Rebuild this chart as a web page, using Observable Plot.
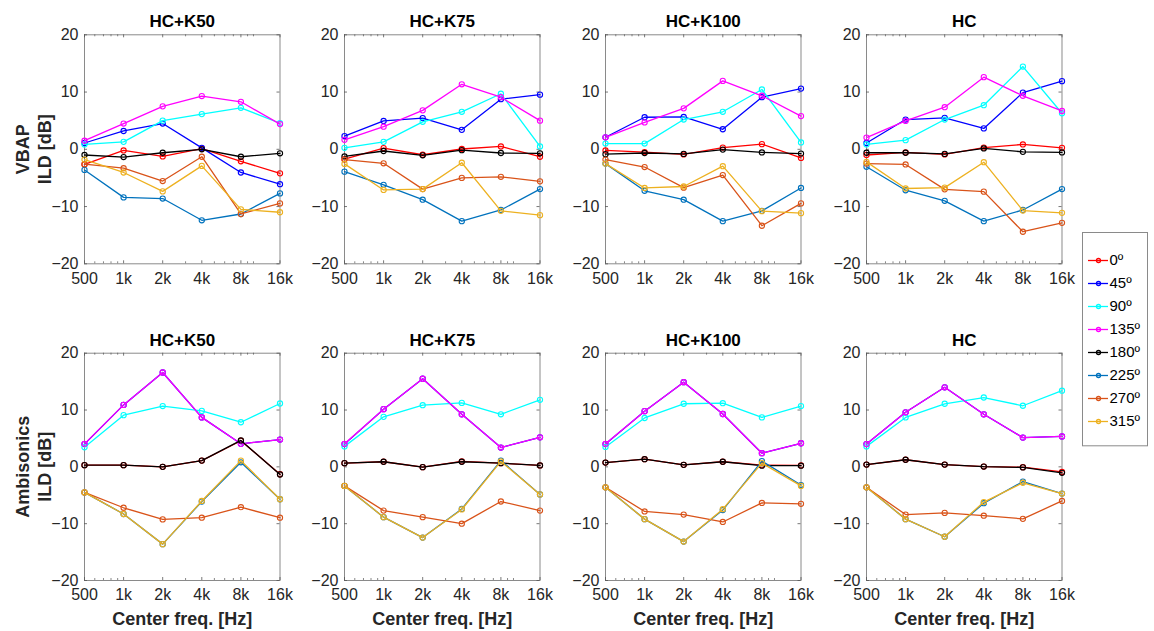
<!DOCTYPE html>
<html><head><meta charset="utf-8">
<script src="https://cdn.jsdelivr.net/npm/d3@7"></script>
<script src="https://cdn.jsdelivr.net/npm/@observablehq/plot@0.6"></script>
<style>
body{margin:0;background:#fff;}
#chart{position:relative;width:1154px;height:631px;overflow:hidden;background:#fff;}
</style>
</head><body><div id="chart"></div>
<script>
const freqs = [500, 1000, 2000, 4000, 8000, 16000];
const freqLabels = ["500", "1k", "2k", "4k", "8k", "16k"];
const minorFreqs = [600, 700, 800, 900, 3000, 5000, 6000, 7000, 9000, 10000];
const yTicks = [-20, -10, 0, 10, 20];
const angles = ["0º", "45º", "90º", "135º", "180º", "225º", "270º", "315º"];
const colors = ["#FF0000", "#0000FF", "#00FFFF", "#FF00FF", "#000000", "#0072BD", "#D95319", "#EDB120"];
const columnTitles = ["HC+K50", "HC+K75", "HC+K100", "HC"];
const rowLabels = ["VBAP\nILD [dB]", "Ambisonics\nILD [dB]"];
const xLabel = "Center freq. [Hz]";

// ILD [dB] per angle (rows: 0º..315º), per center frequency (500..16k)
const vbapK50 = [
  [-2.65, -0.2, -1.25, 0.1, -2.1, -4.2],
  [1.1, 3.2, 4.5, 0.25, -4.05, -6.1],
  [0.85, 1.3, 5.0, 6.15, 7.25, 4.55],
  [1.5, 4.5, 7.5, 9.3, 8.3, 4.4],
  [-1.0, -1.35, -0.6, 0.0, -1.3, -0.7],
  [-3.6, -8.4, -8.6, -12.4, -11.3, -7.7],
  [-2.6, -3.3, -5.55, -1.3, -11.3, -9.45],
  [-1.8, -4.05, -7.35, -2.9, -10.5, -11.0]
];
const vbapK75 = [
  [-1.7, 0.2, -0.95, 0.05, 0.5, -1.3],
  [2.3, 4.95, 5.45, 3.4, 8.75, 9.55],
  [0.25, 1.3, 4.8, 6.55, 9.7, 0.5],
  [1.65, 3.95, 6.8, 11.35, 9.1, 5.0],
  [-1.25, -0.3, -1.05, -0.15, -0.65, -0.7],
  [-3.9, -6.2, -8.8, -12.55, -10.6, -6.95],
  [-1.8, -2.45, -6.95, -5.0, -4.8, -5.6],
  [-2.55, -7.1, -6.95, -2.35, -10.75, -11.5]
];
const vbapK100 = [
  [-0.2, -0.5, -0.9, 0.3, 0.9, -1.5],
  [2.1, 5.6, 5.65, 3.5, 9.1, 10.6],
  [1.0, 1.0, 5.2, 6.55, 10.45, 1.2],
  [2.1, 4.7, 7.15, 11.95, 9.35, 5.8],
  [-0.85, -0.65, -0.8, -0.05, -0.55, -0.75],
  [-2.5, -7.25, -8.8, -12.55, -10.75, -6.75],
  [-1.8, -3.1, -6.7, -4.5, -13.35, -9.45],
  [-2.5, -6.75, -6.5, -2.95, -10.8, -11.15]
];
const vbapHC = [
  [-1.0, -0.55, -0.9, 0.3, 0.85, 0.25],
  [1.1, 5.2, 5.5, 3.65, 9.9, 11.9],
  [0.85, 1.6, 5.2, 7.7, 14.45, 6.3],
  [2.05, 4.95, 7.35, 12.6, 9.35, 6.7],
  [-0.6, -0.6, -0.8, 0.15, -0.45, -0.55],
  [-3.05, -7.15, -9.0, -12.55, -10.6, -6.95],
  [-2.5, -2.65, -7.0, -7.4, -14.4, -12.85],
  [-2.2, -6.85, -6.7, -2.25, -10.7, -11.1]
];
const ambK50 = [
  [0.3, 0.3, 0.0, 1.1, 4.6, -1.3],
  [4.0, 10.9, 16.6, 8.7, 4.05, 4.8],
  [3.45, 9.1, 10.7, 9.85, 7.85, 11.15],
  [4.05, 10.9, 16.6, 8.7, 4.05, 4.8],
  [0.3, 0.3, 0.0, 1.1, 4.65, -1.35],
  [-4.5, -8.3, -13.6, -6.1, 0.8, -5.7],
  [-4.5, -7.2, -9.25, -8.95, -7.1, -8.95],
  [-4.5, -8.3, -13.6, -6.0, 1.1, -5.7]
];
const ambK75 = [
  [0.65, 0.9, -0.05, 0.95, 0.65, 0.25],
  [4.0, 10.15, 15.5, 9.25, 3.4, 5.2],
  [3.6, 8.8, 10.85, 11.25, 9.25, 11.8],
  [4.05, 10.15, 15.5, 9.25, 3.4, 5.2],
  [0.65, 0.9, -0.05, 0.9, 0.65, 0.25],
  [-3.35, -8.85, -12.45, -7.4, 1.1, -4.85],
  [-3.35, -7.7, -8.85, -10.0, -6.1, -7.7],
  [-3.35, -8.85, -12.45, -7.5, 0.95, -4.85]
];
const ambK100 = [
  [0.75, 1.35, 0.35, 0.9, 0.3, 0.25],
  [4.0, 9.8, 14.9, 9.3, 2.4, 4.15],
  [3.5, 8.6, 11.1, 11.2, 8.7, 10.7],
  [4.05, 9.8, 14.9, 9.3, 2.4, 4.15],
  [0.75, 1.35, 0.35, 0.9, 0.2, 0.2],
  [-3.6, -9.2, -13.15, -7.6, 1.0, -3.2],
  [-3.6, -7.85, -8.4, -9.7, -6.35, -6.5],
  [-3.6, -9.2, -13.15, -7.45, 0.65, -3.35]
];
const ambHC = [
  [0.4, 1.25, 0.4, 0.05, -0.05, -0.9],
  [4.0, 9.6, 14.0, 9.25, 5.15, 5.35],
  [3.6, 8.7, 11.1, 12.2, 10.75, 13.4],
  [4.0, 9.6, 14.0, 9.25, 5.15, 5.35],
  [0.4, 1.25, 0.4, 0.05, -0.1, -1.05],
  [-3.6, -9.2, -12.3, -6.4, -2.6, -4.7],
  [-3.6, -8.4, -8.1, -8.6, -9.15, -6.0],
  [-3.6, -9.2, -12.3, -6.2, -2.8, -4.7]
];

const panels = [
  [vbapK50, vbapK75, vbapK100, vbapHC],
  [ambK50, ambK75, ambK100, ambHC]
];

const FONT = '"Liberation Sans", Arial, Helvetica, sans-serif';
const frameColor = "#8a8a8a";
const tickColor = "#555";
const freqIndex = d => freqs.reduce((best, f, i) => Math.abs(Math.log(f / d)) < Math.abs(Math.log(freqs[best] / d)) ? i : best, 0);
const frameLefts = [84, 344.3, 605, 866];
const chart = document.getElementById("chart");

function panel(values, r, c) {
  const innerW = 195.5;
  const innerH = r === 0 ? 229 : 227.3;
  const mL = c === 0 ? 84 : 50, mR = 15;
  const mT = r === 0 ? 34.3 : 42.7, mB = r === 0 ? 30 : 51;
  const left = c === 0 ? 0 : frameLefts[c] - 50;
  const top = r === 0 ? 0 : 310;
  const rows = [];
  angles.forEach((a, k) => values[k].forEach((v, j) => rows.push({k, freq: freqs[j], ild: v})));
  const tickLabels = freqs.map((f, i) => ({freq: f, label: freqLabels[i]}));
  const marks = [
    Plot.frame({stroke: frameColor, strokeWidth: 1}),
    Plot.tickX(freqs, {x: d => d, insetTop: innerH - 3, stroke: tickColor, strokeWidth: 0.8}),
    Plot.tickX(freqs, {x: d => d, insetBottom: innerH - 3, stroke: tickColor, strokeWidth: 0.8}),
    Plot.tickX(minorFreqs, {x: d => d, insetTop: innerH - 2, stroke: tickColor, strokeWidth: 0.7}),
    Plot.tickX(minorFreqs, {x: d => d, insetBottom: innerH - 2, stroke: tickColor, strokeWidth: 0.7}),
    Plot.tickY(yTicks, {y: d => d, insetRight: innerW - 3, stroke: tickColor, strokeWidth: 0.8}),
    Plot.tickY(yTicks, {y: d => d, insetLeft: innerW - 3, stroke: tickColor, strokeWidth: 0.8}),
    Plot.text(tickLabels, {x: "freq", text: "label", frameAnchor: "bottom", dy: 8.5, lineAnchor: "top",
      fill: "#262626", fontSize: 16})
  ];
  angles.forEach((a, k) => {
    const s = rows.filter(d => d.k === k);
    marks.push(Plot.line(s, {x: "freq", y: "ild", stroke: colors[k], strokeWidth: 1.3}));
    marks.push(Plot.dot(s, {x: "freq", y: "ild", r: 2.6, stroke: colors[k], strokeWidth: 1.1}));
  });
  marks.push(Plot.text([columnTitles[c]], {text: d => d, frameAnchor: "top", dy: -7.5, lineAnchor: "bottom",
    fontSize: 17, fontWeight: "bold", fill: "#000"}));
  if (c === 0) {
    marks.push(Plot.text([rowLabels[r]], {text: d => d, frameAnchor: "left", rotate: -90, dx: -51.6,
      lineHeight: 1.22, textAnchor: "middle", lineAnchor: "middle", fontSize: 18, fontWeight: "bold", fill: "#262626"}));
  }
  if (r === 1) {
    marks.push(Plot.text([xLabel], {text: d => d, frameAnchor: "bottom", dy: 31.7, lineAnchor: "top",
      fontSize: 18, fontWeight: "bold", fill: "#262626"}));
  }
  const svg = Plot.plot({
    width: mL + innerW + mR,
    height: mT + innerH + mB,
    marginLeft: mL, marginRight: mR, marginTop: mT, marginBottom: mB,
    x: {type: "log", domain: [500, 16000], axis: null},
    y: {domain: [-20, 20], ticks: yTicks, tickSize: 0, tickPadding: 6, label: null},
    style: {fontFamily: FONT, fontSize: "16px", color: "#262626", background: "transparent", overflow: "visible",
      position: "absolute", left: left + "px", top: top + "px"},
    marks
  });
  chart.append(svg);
}

panels.forEach((row, r) => row.forEach((vals, c) => panel(vals, r, c)));

// legend
const legend = Plot.plot({
  width: 65, height: 213.3,
  margin: 0,
  x: {domain: [0, 65], range: [0, 65], axis: null},
  y: {type: "point", domain: angles, range: [13.8, 203.5], axis: null},
  style: {fontFamily: FONT, fontSize: "15px", color: "#000", background: "#fff", overflow: "visible",
    position: "absolute", left: "1082px", top: "231.7px"},
  marks: [
    Plot.frame({stroke: frameColor, strokeWidth: 1}),
    Plot.ruleY(angles, {y: d => d, x1: 6, x2: 26, stroke: (d, i) => colors[i], strokeWidth: 1.3}),
    Plot.dot(angles, {y: d => d, x: 16, r: 2, stroke: (d, i) => colors[i], strokeWidth: 1.3}),
    Plot.text(angles, {y: d => d, x: 27, text: d => d, textAnchor: "start", fill: "#000", fontSize: 15})
  ]
});
chart.append(legend);
</script>
</body></html>
